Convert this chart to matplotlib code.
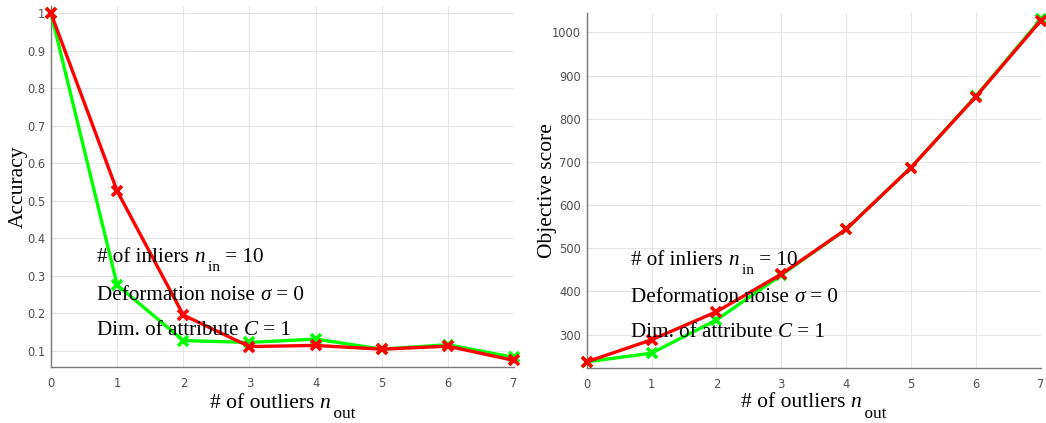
import matplotlib
matplotlib.use("Agg")
import matplotlib.pyplot as plt
from matplotlib.transforms import offset_copy

n_out = [0, 1, 2, 3, 4, 5, 6, 7]

acc_green = [1.0, 0.275, 0.127, 0.122, 0.131, 0.104, 0.116, 0.082]
acc_red = [1.0, 0.526, 0.195, 0.111, 0.114, 0.104, 0.112, 0.074]

obj_green = [237, 257, 334, 438, 544, 687, 852, 1030]
obj_red = [237, 288, 353, 440, 544, 687, 851, 1027]

acc_ticks = [0.1, 0.2, 0.3, 0.4, 0.5, 0.6, 0.7, 0.8, 0.9, 1.0]
acc_ticklabels = ["0.1", "0.2", "0.3", "0.4", "0.5", "0.6", "0.7", "0.8", "0.9", "1"]
obj_ticks = [300, 400, 500, 600, 700, 800, 900, 1000]

# each text run: (string, size scale, baseline shift in points, italic)
info_lines = [
    [("# of inliers ", 1, 0, False), ("n", 1, 0, True), ("\u2009in", 0.72, -6.5, False), (" = 10", 1, 0, False)],
    [("Deformation noise ", 1, 0, False), ("\u03c3", 1, 0, True), (" = 0", 1, 0, False)],
    [("Dim. of attribute ", 1, 0, False), ("C", 1, 0, True), (" = 1", 1, 0, False)],
]
xlabel_runs = [("# of outliers ", 1, 0, False), ("n", 1, 0, True), ("\u2009out", 0.8, -7.7, False)]

serif = "Liberation Serif"
tick_color = "#505050"

fig = plt.figure(figsize=(10.46, 4.23), dpi=100)
ax1 = fig.add_axes([0.0488, 0.132, 0.4426, 0.853])
ax2 = fig.add_axes([0.5609, 0.1293, 0.434, 0.839])
renderer = fig.canvas.get_renderer()


def rich_text(x, y, runs, transform, fontsize, centered=False):
    widths = []
    for s, sc, dy, it in runs:
        t = fig.text(0, 0, s, fontsize=fontsize * sc, fontfamily=[serif, "DejaVu Serif"],
                     fontstyle="italic" if it else "normal")
        widths.append(t.get_window_extent(renderer).width * 72.0 / fig.dpi)
        t.remove()
    pos = -sum(widths) / 2.0 if centered else 0.0
    for (s, sc, dy, it), w in zip(runs, widths):
        tr = offset_copy(transform, fig=fig, x=pos, y=dy, units="points")
        fig.text(x, y, s, transform=tr, fontsize=fontsize * sc,
                 fontfamily=[serif, "DejaVu Serif"],
                 fontstyle="italic" if it else "normal", va="baseline", ha="left",
                 zorder=5)
        pos += w


def style(ax):
    for s in ("top", "right"):
        ax.spines[s].set_visible(False)
    for s in ("left", "bottom"):
        ax.spines[s].set_color("#7a7a7a")
        ax.spines[s].set_linewidth(1.0)
    ax.grid(True, color="#e6e6e6", linewidth=0.8)
    ax.set_axisbelow(True)
    ax.tick_params(length=0, labelsize=8.3, colors=tick_color)
    ax.tick_params(axis="y", pad=4)
    ax.tick_params(axis="x", pad=7)
    ax.set_xticks(n_out)
    ax.set_xlim(0, 7)


def draw(ax, green, red):
    kw = dict(linewidth=2.4, marker="x", markersize=7, markeredgewidth=2.6, clip_on=False)
    ax.plot(n_out, green, color="#00ff00", zorder=3, **kw)
    ax.plot(n_out, red, color="#ff0000", zorder=4, **kw)


# accuracy panel
draw(ax1, acc_green, acc_red)
style(ax1)
ax1.set_ylim(0.056, 1.019)
ax1.set_yticks(acc_ticks)
ax1.set_yticklabels(acc_ticklabels)
ax1.set_ylabel("Accuracy", fontfamily=serif, fontsize=15.5)
ax1.yaxis.set_label_coords(-0.05, 0.5)
rich_text(0.5, -0.112, xlabel_runs, ax1.transAxes, 15.5, centered=True)
for y, runs in zip([0.338, 0.236, 0.143], info_lines):
    rich_text(0.70, y, runs, ax1.transData, 15.2)

# objective panel
draw(ax2, obj_green, obj_red)
style(ax2)
ax2.set_ylim(222, 1044)
ax2.set_yticks(obj_ticks)
ax2.set_ylabel("Objective score", fontfamily=serif, fontsize=15.5)
ax2.yaxis.set_label_coords(-0.066, 0.5)
rich_text(0.5, -0.109, xlabel_runs, ax2.transAxes, 15.5, centered=True)
for y, runs in zip([461, 376, 295], info_lines):
    rich_text(0.69, y, runs, ax2.transData, 15.2)

fig.savefig("out.png", dpi=100)
